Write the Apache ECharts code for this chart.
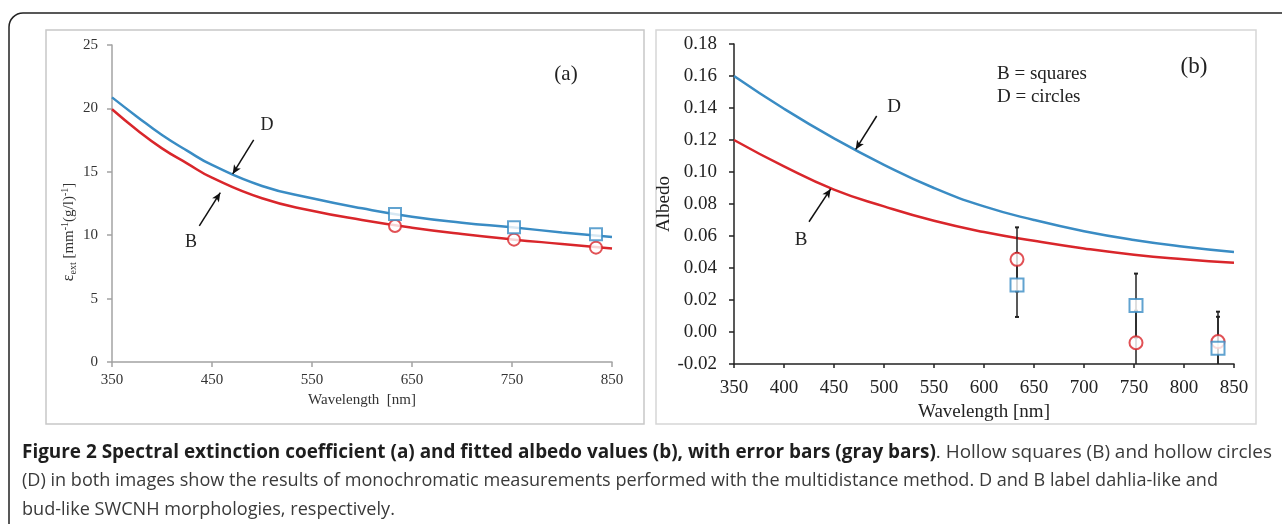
<!DOCTYPE html>
<html>
<head>
<meta charset="utf-8">
<script src="https://cdn.jsdelivr.net/npm/echarts@6/dist/echarts.min.js"></script>
<style>
html, body { margin: 0; padding: 0; background: #fff; }
#fig { width: 1282px; height: 524px; }
</style>
</head>
<body>
<div id="fig"></div>
<script>
// (a) extinction coefficient curves
var wlExt = [350, 375, 400, 425, 450, 500, 550, 600, 650, 700, 750, 800, 850];
var extBlue = [20.87, 19.35, 17.9, 16.67, 15.54, 13.88, 12.91, 12.12, 11.46, 10.99, 10.62, 10.22, 9.85];   // D
var extRed = [19.93, 18.3, 16.85, 15.67, 14.54, 12.91, 11.93, 11.2, 10.59, 10.09, 9.67, 9.31, 8.95];      // B
var extTicks = [350, 450, 550, 650, 750, 850];

// (b) albedo curves
var wlAlb = [350, 400, 450, 500, 550, 600, 650, 700, 750, 800, 850];
var albBlue = [0.160, 0.1395, 0.121, 0.1045, 0.0900, 0.0785, 0.0700, 0.0630, 0.0575, 0.0533, 0.0500]; // D
var albRed = [0.120, 0.1035, 0.0890, 0.0785, 0.0695, 0.0625, 0.0570, 0.0522, 0.0483, 0.0455, 0.0433];  // B

// monochromatic measurements
var ptWl = [633, 752, 834];
var extSquares = [11.67, 10.62, 10.07];
var extCircles = [10.73, 9.65, 9.02];
var albSquares = [0.0294, 0.0165, -0.0102];
var albCircles = [0.0454, -0.0067, -0.0060];
var errSquares = [0.020, 0.020, 0.0197];
var errCircles = [0.020, 0.020, 0.0187];

var captionLines = [
	[{t: 'Figure 2 Spectral extinction coefficient (a) and fitted albedo values (b), with error bars (gray bars)', b: true},
	 {t: '. Hollow squares (B) and hollow circles', b: false}],
	[{t: '(D) in both images show the results of monochromatic measurements performed with the multidistance method. D and B label dahlia-like and', b: false}],
	[{t: 'bud-like SWCNH morphologies, respectively.', b: false}]
];
var captionWidth = [1250, 1196, 0];

var BLUE = '#3a8cc4';
var RED = '#d9262b';
var SERIF = '"Liberation Serif", "Times New Roman", serif';
var SANS = '"Open Sans", "Noto Sans", sans-serif';
var CAP_SIZE = 19;

function pairs(xs, ys) {
	var out = [];
	for (var i = 0; i < xs.length; i++) out.push([xs[i], ys[i]]);
	return out;
}

function errRows(xs, ys, es) {
	var out = [];
	for (var i = 0; i < xs.length; i++) out.push([xs[i], ys[i] - es[i], ys[i] + es[i]]);
	return out;
}

function renderErr(params, api) {
	var x = api.value(0);
	var top = api.coord([x, api.value(2)]);
	var bot = api.coord([x, api.value(1)]);
	var st = {stroke: '#222', lineWidth: 1.5};
	return {
		type: 'group',
		children: [
			{type: 'line', shape: {x1: top[0], y1: top[1], x2: bot[0], y2: bot[1]}, style: st},
			{type: 'line', shape: {x1: top[0] - 2, y1: top[1], x2: top[0] + 2, y2: top[1]}, style: {stroke: '#222', lineWidth: 2}},
			{type: 'line', shape: {x1: bot[0] - 2, y1: bot[1], x2: bot[0] + 2, y2: bot[1]}, style: {stroke: '#222', lineWidth: 2}}
		]
	};
}

function arrow(from, to) {
	return {
		silent: true,
		symbol: ['none', 'arrow'],
		symbolSize: [6, 9],
		label: {show: false},
		lineStyle: {color: '#111', width: 1.5, type: 'solid'},
		emphasis: {disabled: true},
		data: [[{coord: from}, {coord: to}]]
	};
}

function captionText(parts, idx, ctx, lastScale) {
	var w = 0, txt = '';
	for (var i = 0; i < parts.length; i++) {
		ctx.font = (parts[i].b ? 'bold ' : '') + CAP_SIZE + 'px ' + SANS;
		w += ctx.measureText(parts[i].t).width;
		txt += '{' + (parts[i].b ? 'b' : 'n') + '|' + parts[i].t + '}';
	}
	// last line is ragged: reuse the scale of the line above
	var sx = captionWidth[idx] ? captionWidth[idx] / w : lastScale;
	return {
		type: 'text', x: 22, y: [453, 481, 510][idx], scaleX: sx,
		style: {
			text: txt, verticalAlign: 'middle',
			rich: {
				b: {fontFamily: SANS, fontSize: CAP_SIZE, fontWeight: 'bold', fill: '#1e1e1e'},
				n: {fontFamily: SANS, fontSize: CAP_SIZE, fill: '#3a3a3a'}
			}
		}
	};
}

function setFigure() {
	var chart = echarts.init(document.getElementById('fig'));
	var ctx = document.createElement('canvas').getContext('2d');

	var graphics = [
		{type: 'rect', shape: {x: 9, y: 13, width: 1400, height: 700, r: 14}, style: {fill: 'none', stroke: '#222', lineWidth: 1.5}},
		{type: 'rect', shape: {x: 46, y: 30, width: 598, height: 394}, style: {fill: 'none', stroke: '#c8c8c8', lineWidth: 1.5}},
		{type: 'rect', shape: {x: 656, y: 30, width: 600, height: 394}, style: {fill: 'none', stroke: '#d6d6d6', lineWidth: 1.5}},
		{type: 'text', x: 69, y: 232, rotation: Math.PI / 2,
			style: {
				text: '{e|ε}{s|ext} [mm{p|-1}(g/l){p|-1}]', align: 'center', verticalAlign: 'middle',
				rich: {
					e: {fontFamily: SERIF, fontSize: 16, fill: '#333', lineHeight: 18},
					s: {fontFamily: SERIF, fontSize: 10, fill: '#333', verticalAlign: 'bottom', lineHeight: 18},
					p: {fontFamily: SERIF, fontSize: 10, fill: '#333', verticalAlign: 'top', lineHeight: 18}
				},
				fontFamily: SERIF, fontSize: 15, fill: '#333'
			}},
		{type: 'text', x: 566, y: 74, style: {text: '(a)', fontFamily: SERIF, fontSize: 21, fill: '#222', align: 'center', verticalAlign: 'middle'}},
		{type: 'text', x: 267, y: 125, style: {text: 'D', fontFamily: SERIF, fontSize: 18, fill: '#222', align: 'center', verticalAlign: 'middle'}},
		{type: 'text', x: 191, y: 242, style: {text: 'B', fontFamily: SERIF, fontSize: 18, fill: '#222', align: 'center', verticalAlign: 'middle'}},
		{type: 'text', x: 1194, y: 67, style: {text: '(b)', fontFamily: SERIF, fontSize: 23, fill: '#222', align: 'center', verticalAlign: 'middle'}},
		{type: 'text', x: 997, y: 74, style: {text: 'B = squares', fontFamily: SERIF, fontSize: 19, fill: '#222', verticalAlign: 'middle'}},
		{type: 'text', x: 997, y: 97, style: {text: 'D = circles', fontFamily: SERIF, fontSize: 19, fill: '#222', verticalAlign: 'middle'}},
		{type: 'text', x: 894, y: 107, style: {text: 'D', fontFamily: SERIF, fontSize: 19, fill: '#222', align: 'center', verticalAlign: 'middle'}},
		{type: 'text', x: 801, y: 240, style: {text: 'B', fontFamily: SERIF, fontSize: 19, fill: '#222', align: 'center', verticalAlign: 'middle'}}
	];
	var lastScale = 1;
	for (var i = 0; i < captionLines.length; i++) {
		var g = captionText(captionLines[i], i, ctx, lastScale);
		lastScale = g.scaleX;
		graphics.push(g);
	}

	var option = {
		animation: false,
		backgroundColor: '#fff',
		grid: [
			{left: 112, top: 45, width: 500, height: 317},
			{left: 734, top: 44, width: 500, height: 320}
		],
		xAxis: [
			{
				gridIndex: 0, type: 'value', min: 350, max: 850,
				name: 'Wavelength  [nm]', nameLocation: 'middle', nameGap: 29,
				nameTextStyle: {fontFamily: SERIF, fontSize: 15, color: '#333'},
				axisLine: {onZero: false, lineStyle: {color: '#a3a3a3', width: 1.5}},
				axisTick: {show: true, length: 5, lineStyle: {color: '#a3a3a3', width: 1.5}, customValues: extTicks},
				axisLabel: {fontFamily: SERIF, fontSize: 15, color: '#333', margin: 11, customValues: extTicks},
				splitLine: {show: false}
			},
			{
				gridIndex: 1, type: 'value', min: 350, max: 850, interval: 50,
				name: 'Wavelength [nm]', nameLocation: 'middle', nameGap: 32,
				nameTextStyle: {fontFamily: SERIF, fontSize: 19, color: '#222'},
				axisLine: {onZero: false, lineStyle: {color: '#222', width: 1.5}},
				axisTick: {show: true, length: 4, lineStyle: {color: '#222', width: 1.5}},
				axisLabel: {fontFamily: SERIF, fontSize: 19, color: '#222', margin: 15},
				splitLine: {show: false}
			}
		],
		yAxis: [
			{
				gridIndex: 0, type: 'value', min: 0, max: 25, interval: 5,
				axisLine: {show: true, lineStyle: {color: '#a3a3a3', width: 1.5}},
				axisTick: {show: true, length: 5, lineStyle: {color: '#a3a3a3', width: 1.5}},
				axisLabel: {fontFamily: SERIF, fontSize: 15, color: '#333', margin: 14},
				splitLine: {show: false}
			},
			{
				gridIndex: 1, type: 'value', min: -0.02, max: 0.18, interval: 0.02,
				name: 'Albedo', nameLocation: 'middle', nameGap: 52,
				nameTextStyle: {fontFamily: SERIF, fontSize: 19, color: '#222'},
				axisLine: {show: true, lineStyle: {color: '#222', width: 1.5}},
				axisTick: {show: true, length: 5, lineStyle: {color: '#222', width: 1.5}},
				axisLabel: {fontFamily: SERIF, fontSize: 19, color: '#222', margin: 17,
					formatter: function (v) { return v.toFixed(2); }},
				splitLine: {show: false}
			}
		],
		series: [
			{
				type: 'line', xAxisIndex: 0, yAxisIndex: 0, data: pairs(wlExt, extBlue),
				smooth: 0.5, showSymbol: false,
				lineStyle: {color: BLUE, width: 2.5}, z: 3,
				markLine: arrow([491.7, 17.51], [470.7, 14.83])
			},
			{
				type: 'line', xAxisIndex: 0, yAxisIndex: 0, data: pairs(wlExt, extRed),
				smooth: 0.5, showSymbol: false,
				lineStyle: {color: RED, width: 2.5}, z: 3,
				markLine: arrow([437.3, 10.73], [458.3, 13.35])
			},
			{
				type: 'scatter', xAxisIndex: 0, yAxisIndex: 0, data: pairs(ptWl, extCircles),
				symbol: 'emptyCircle', symbolSize: 12, itemStyle: {color: RED, borderWidth: 2}, z: 4
			},
			{
				type: 'scatter', xAxisIndex: 0, yAxisIndex: 0, data: pairs(ptWl, extSquares),
				symbol: 'emptyRect', symbolSize: 12, itemStyle: {color: BLUE, borderWidth: 2}, z: 5
			},
			{
				type: 'line', xAxisIndex: 1, yAxisIndex: 1, data: pairs(wlAlb, albBlue),
				smooth: 0.5, showSymbol: false,
				lineStyle: {color: BLUE, width: 2.5}, z: 3,
				markLine: arrow([492.7, 0.135], [471.7, 0.1141])
			},
			{
				type: 'line', xAxisIndex: 1, yAxisIndex: 1, data: pairs(wlAlb, albRed),
				smooth: 0.5, showSymbol: false,
				lineStyle: {color: RED, width: 2.5}, z: 3,
				markLine: arrow([425, 0.0689], [446.7, 0.0894])
			},
			{
				type: 'custom', xAxisIndex: 1, yAxisIndex: 1, renderItem: renderErr, clip: true,
				data: errRows(ptWl, albSquares, errSquares), z: 4
			},
			{
				type: 'custom', xAxisIndex: 1, yAxisIndex: 1, renderItem: renderErr, clip: true,
				data: errRows(ptWl, albCircles, errCircles), z: 4
			},
			{
				type: 'scatter', xAxisIndex: 1, yAxisIndex: 1, data: pairs(ptWl, albCircles),
				symbol: 'emptyCircle', symbolSize: 13, itemStyle: {color: RED, borderWidth: 2}, z: 5
			},
			{
				type: 'scatter', xAxisIndex: 1, yAxisIndex: 1, data: pairs(ptWl, albSquares),
				symbol: 'emptyRect', symbolSize: 13, itemStyle: {color: BLUE, borderWidth: 2}, z: 6
			}
		],
		graphic: graphics
	};
	chart.setOption(option);
}

setFigure();
</script>
</body>
</html>
